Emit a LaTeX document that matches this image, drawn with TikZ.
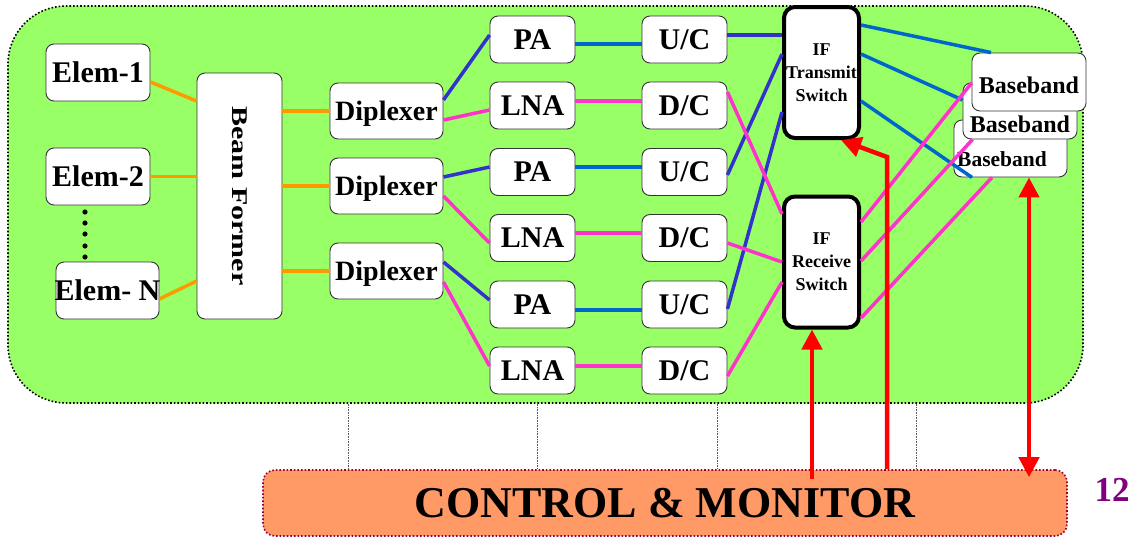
\documentclass[tikz,border=0pt]{standalone}
\usepackage{fontspec}
\setmainfont{Liberation Serif}
\usetikzlibrary{arrows.meta,calc}
\definecolor{panelgreen}{HTML}{99FF66}
\definecolor{ctlorange}{HTML}{FF9966}
\definecolor{ctlborder}{HTML}{990033}
\definecolor{feedorange}{HTML}{FF9900}
\definecolor{rxpink}{HTML}{FF33CC}
\definecolor{txblue}{HTML}{3333CC}
\definecolor{ifblue}{HTML}{0066CC}
\definecolor{ctlred}{HTML}{FF0000}
\definecolor{numpurple}{HTML}{800080}

\begin{document}
\begin{tikzpicture}[x=1pt, y=-1pt,
    >={Triangle[width=20pt,length=20pt]},
    box/.style={draw=black!80, line width=0.9pt, fill=white, rounded corners=8pt,
                inner sep=0pt, text depth=0pt, font=\fontsize{30}{30}\selectfont\bfseries},
    elembox/.style={box, minimum width=104pt, minimum height=57pt},
    dipbox/.style={box, minimum width=113pt, minimum height=56pt,
                   font=\fontsize{28}{28}\selectfont\bfseries},
    ampbox/.style={box, minimum width=85pt, minimum height=47pt},
    swbox/.style={draw, line width=4pt, fill=white, rounded corners=11pt, inner sep=0pt,
                  minimum width=75pt, minimum height=131pt, align=center,
                  font=\fontsize{18}{23}\selectfont\bfseries},
    bbbox/.style={box, minimum width=114pt, minimum height=57pt,
                  font=\fontsize{24}{24}\selectfont\bfseries},
    feed/.style={feedorange, line width=3.5pt},
    txline/.style={txblue, line width=3.5pt},
    ifline/.style={ifblue, line width=3.5pt},
    rxline/.style={rxpink, line width=3.5pt},
    ctl/.style={ctlred, line width=4.5pt, ->},
    tap/.style={gray!70!black, line width=0.6pt, densely dotted}
  ]
  \useasboundingbox (0,0) rectangle (1135,538);

  % Panels
  \node[draw, dotted, line width=1.6pt, fill=panelgreen, rounded corners=58pt,
        minimum width=1075pt, minimum height=397pt] (panel) at (545.5,204.5) {};
  \node[draw=ctlborder, dotted, line width=1.6pt, fill=ctlorange, rounded corners=12pt,
        minimum width=804pt, minimum height=66pt, inner sep=0pt,
        font=\fontsize{44}{44}\selectfont\bfseries] (ctrl) at (665,503) {CONTROL \& MONITOR};
  \foreach \x in {348,537,717,916}
    \draw[tap] (\x,0 |- panel.south) -- (\x,0 |- ctrl.north);

  % Antenna side
  \node[elembox] (elem1) at (98,72.5)    {Elem-1};
  \node[elembox] (elem2) at (98,176.5)   {Elem-2};
  \node[elembox, minimum width=103pt] (elemN) at (107.5,290.5) {\makebox[0pt]{Elem- N}};
  \foreach \y in {212,223,234,246,257}
    \fill (85,\y) circle (2.6pt);
  \node[box, rotate=-90, minimum width=246pt, minimum height=85pt] (bf) at (239.5,196)
       {\scalebox{1}[0.75]{Beam Former}};

  \node[dipbox] (dip1) at (386.5,111) {Diplexer};
  \node[dipbox] (dip2) at (386.5,186) {Diplexer};
  \node[dipbox] (dip3) at (386.5,271) {Diplexer};

  % Amplifiers and converters
  \node[ampbox] (pa1)  at (532.5,39.5)  {PA};
  \node[ampbox] (lna1) at (532.5,105.5) {LNA};
  \node[ampbox] (pa2)  at (532.5,172)   {PA};
  \node[ampbox] (lna2) at (532.5,238)   {LNA};
  \node[ampbox] (pa3)  at (532.5,304.5) {PA};
  \node[ampbox] (lna3) at (532.5,370.5) {LNA};

  \node[ampbox] (uc1) at (684.5,39.5)  {U/C};
  \node[ampbox] (dc1) at (684.5,105.5) {D/C};
  \node[ampbox] (uc2) at (684.5,172)   {U/C};
  \node[ampbox] (dc2) at (684.5,238)   {D/C};
  \node[ampbox] (uc3) at (684.5,304.5) {U/C};
  \node[ampbox] (dc3) at (684.5,370.5) {D/C};

  % Switches
  \node[swbox] (tx) at (821.5,72.5) {IF\\Transmit\\Switch};
  \node[swbox] (rx) at (821.5,262)  {IF\\Receive\\Switch};

  % Baseband stack
  \node[bbbox, minimum width=113pt, text height=35pt,
        font=\fontsize{21.5}{21.5}\selectfont\bfseries] (bb3) at (1010.5,148.5)
       {Baseband\hspace*{17pt}};
  \node[bbbox, minimum height=56pt, text height=42.5pt] (bb2) at (1020,111) {Baseband};
  \node[bbbox, minimum height=58pt, text height=23.5pt] (bb1) at (1029,82)  {Baseband};

  % Links
  \draw[feed] ([yshift=-9.5pt]elem1.east) -- ([yshift=95pt]bf.south);
  \draw[feed] (elem2.east) -- (elem2.east -| bf.south);
  \draw[feed] ([yshift=-8.5pt]elemN.east) -- ([yshift=-85pt]bf.south);
  \draw[feed] (dip1.west -| bf.north) -- (dip1.west);
  \draw[feed] (dip2.west -| bf.north) -- (dip2.west);
  \draw[feed] (dip3.west -| bf.north) -- (dip3.west);

  \draw[txline] ([yshift=11pt]dip1.east) -- ([yshift=4.5pt]pa1.west);
  \draw[rxline] ([yshift=-9pt]dip1.east) -- ([yshift=-4.5pt]lna1.west);
  \draw[txline] ([yshift=9pt]dip2.east) -- ([yshift=5pt]pa2.west);
  \draw[rxline] ([yshift=-10pt]dip2.east) -- ([yshift=-5pt]lna2.west);
  \draw[txline] ([yshift=9pt]dip3.east) -- ([yshift=4.5pt]pa3.west);
  \draw[rxline] ([yshift=-11pt]dip3.east) -- ([yshift=4.5pt]lna3.west);

  \draw[ifline] ([yshift=-4.5pt]pa1.east) -- ([yshift=-4.5pt]uc1.west);
  \draw[rxline] ([yshift=4.5pt]lna1.east) -- ([yshift=4.5pt]dc1.west);
  \draw[ifline] ([yshift=5pt]pa2.east)    -- ([yshift=5pt]uc2.west);
  \draw[rxline] ([yshift=5pt]lna2.east)   -- ([yshift=5pt]dc2.west);
  \draw[ifline] ([yshift=-5.5pt]pa3.east) -- ([yshift=-5.5pt]uc3.west);
  \draw[rxline] ([yshift=4.5pt]lna3.east) -- ([yshift=4.5pt]dc3.west);

  \draw[txline] ([yshift=4.5pt]uc1.east)  -- ([yshift=37.5pt]tx.west);
  \draw[txline] ([yshift=-3pt]uc2.east)   -- ([yshift=18.5pt]tx.west);
  \draw[txline] ([yshift=-4.5pt]uc3.east) -- ([yshift=-39.5pt]tx.west);
  \draw[rxline] ([yshift=13.5pt]dc1.east) -- ([yshift=48pt]rx.west);
  \draw[rxline] ([yshift=-5pt]dc2.east)   -- (rx.west);
  \draw[rxline] ([yshift=-5.5pt]dc3.east) -- ([yshift=-20pt]rx.west);

  \draw[ifline] ([yshift=47.5pt]tx.east)  -- ([xshift=-38pt]bb1.north);
  \draw[ifline] ([yshift=18.5pt]tx.east)  -- ([yshift=11pt]bb2.west);
  \draw[ifline] ([yshift=-28.5pt]tx.east) -- ([xshift=-38.5pt]bb3.south);
  \draw[rxline] ([yshift=40pt]rx.east)  -- ([yshift=-1pt]bb1.west);
  \draw[rxline] ([yshift=1pt]rx.east)   -- ([xshift=10pt]bb2.south west);
  \draw[rxline] ([yshift=-56pt]rx.east) -- ([xshift=-18.5pt]bb3.south);

  % Control arrows
  \coordinate (txbend) at (887,157);
  \draw[ctl] ($(rx.south |- ctrl.north)+(-9.5,10)$) -- ([xshift=-9.5pt]rx.south);
  \draw[ctl] (txbend |- ctrl.north) -- (txbend) -- ([xshift=19.5pt]tx.south);
  \draw[ctl, <->] ([xshift=18.5pt]bb3.south) -- ($(bb3.south |- ctrl.north)+(18.5,8)$);

  \node[numpurple, font=\fontsize{35}{35}\selectfont\bfseries] (pagenum) at (1112,490) {12};
\end{tikzpicture}
\end{document}
